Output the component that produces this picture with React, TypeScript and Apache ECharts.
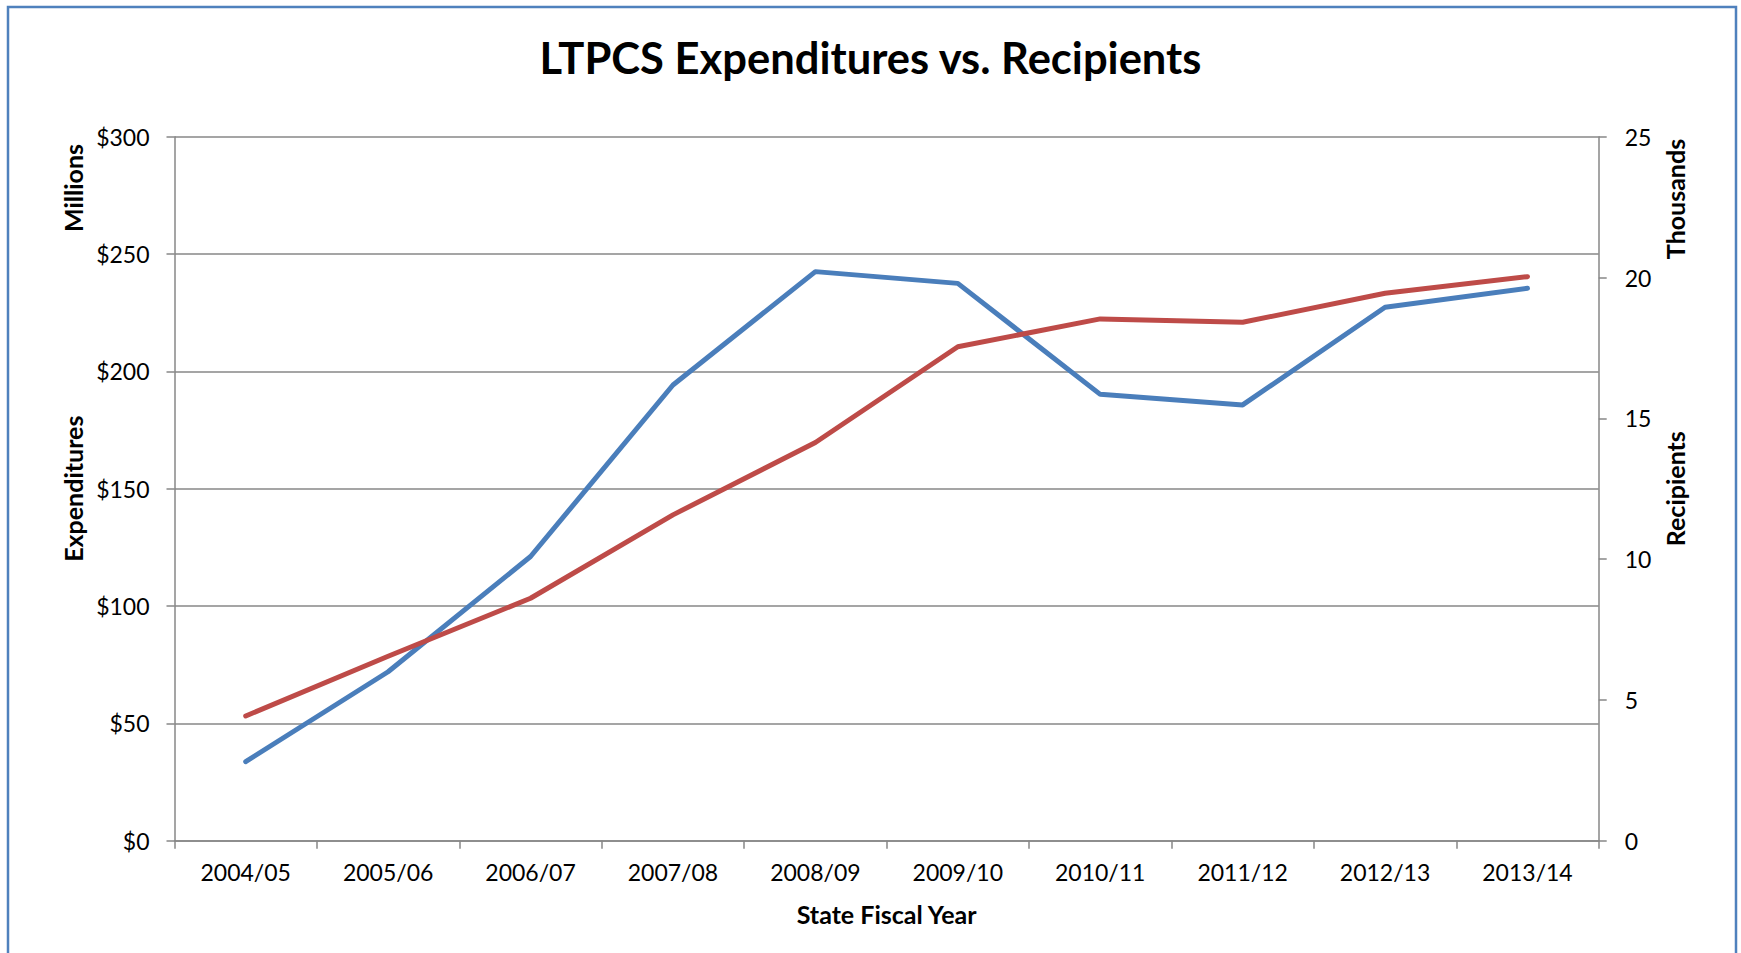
import React, { useEffect, useRef } from "react";
import * as echarts from "echarts";

const categories = ["2004/05", "2005/06", "2006/07", "2007/08", "2008/09", "2009/10", "2010/11", "2011/12", "2012/13", "2013/14"];
// Expenditures, $ millions (left axis)
const expenditures = [33.7, 72.0, 121.1, 194.2, 242.5, 237.5, 190.2, 185.7, 227.3, 235.4];
// Recipients, thousands (right axis)
const recipients = [4.43, 6.55, 8.61, 11.57, 14.14, 17.54, 18.53, 18.41, 19.44, 20.03];

const FONT = "Lato, 'Open Sans', sans-serif";
const GRID = "#878787";

export default function App() {
  const ref = useRef<HTMLDivElement>(null);
  useEffect(() => {
    if (!ref.current) return;
    const chart = echarts.init(ref.current, null, { renderer: "svg" });
    chart.setOption({
      animation: false,
      backgroundColor: "#ffffff",
      title: {
        text: "LTPCS Expenditures vs. Recipients",
        left: "center",
        top: 30,
        textStyle: { fontFamily: FONT, fontWeight: "bold", fontSize: 43.5, color: "#000" },
      },
      grid: { left: 174.5, right: 142.3, top: 136.7, bottom: 112.3, containLabel: false },
      xAxis: {
        type: "category",
        data: categories,
        boundaryGap: true,
        name: "State Fiscal Year",
        nameLocation: "middle",
        nameGap: 61,
        nameTextStyle: { fontFamily: FONT, fontWeight: "bold", fontSize: 25, color: "#000" },
        axisLine: { lineStyle: { color: GRID, width: 1.5 } },
        axisTick: { show: true, length: 8, lineStyle: { color: GRID, width: 1.5 } },
        axisLabel: { fontFamily: FONT, fontSize: 23, color: "#000", margin: 20 },
        splitLine: { show: false },
      },
      yAxis: [
        {
          type: "value",
          min: 0,
          max: 300,
          interval: 50,
          position: "left",
          name: "Expenditures",
          nameLocation: "middle",
          nameRotate: 90,
          nameGap: 88,
          nameTextStyle: { fontFamily: FONT, fontWeight: "bold", fontSize: 25, color: "#000" },
          axisLine: { show: true, lineStyle: { color: GRID, width: 1.5 } },
          axisTick: { show: true, length: 8, lineStyle: { color: GRID, width: 1.5 } },
          axisLabel: { fontFamily: FONT, fontSize: 23, color: "#000", margin: 25, formatter: (v: number) => "$" + v },
          splitLine: { show: true, lineStyle: { color: GRID, width: 1.5 } },
        },
        {
          type: "value",
          min: 0,
          max: 25,
          interval: 5,
          position: "right",
          name: "Recipients",
          nameLocation: "middle",
          nameRotate: 90,
          nameGap: 63,
          nameTextStyle: { fontFamily: FONT, fontWeight: "bold", fontSize: 25, color: "#000" },
          axisLine: { show: true, lineStyle: { color: GRID, width: 1.5 } },
          axisTick: { show: true, length: 8, lineStyle: { color: GRID, width: 1.5 } },
          axisLabel: { fontFamily: FONT, fontSize: 23, color: "#000", margin: 26 },
          splitLine: { show: false },
        },
      ],
      graphic: [
        {
          type: "rect",
          shape: { x: 8, y: 7, width: 1728, height: 980 },
          style: { fill: "none", stroke: "#4F81BD", lineWidth: 2.5 },
          silent: true,
        },
        {
          type: "text",
          x: 73,
          y: 188,
          rotation: Math.PI / 2,
          style: {
            text: "Millions",
            fontFamily: FONT,
            fontWeight: "bold",
            fontSize: 25,
            fill: "#000",
            textAlign: "center",
            textVerticalAlign: "middle",
          },
        },
        {
          type: "text",
          x: 1675,
          y: 199,
          rotation: Math.PI / 2,
          style: {
            text: "Thousands",
            fontFamily: FONT,
            fontWeight: "bold",
            fontSize: 25,
            fill: "#000",
            textAlign: "center",
            textVerticalAlign: "middle",
          },
        },
      ],
      series: [
        {
          name: "Expenditures",
          type: "line",
          yAxisIndex: 0,
          data: expenditures,
          showSymbol: false,
          symbol: "none",
          lineStyle: { color: "#4A7EBB", width: 5, cap: "round", join: "round" },
          itemStyle: { color: "#4A7EBB" },
        },
        {
          name: "Recipients",
          type: "line",
          yAxisIndex: 1,
          data: recipients,
          showSymbol: false,
          symbol: "none",
          lineStyle: { color: "#BE4B48", width: 5, cap: "round", join: "round" },
          itemStyle: { color: "#BE4B48" },
        },
      ],
    });
    return () => chart.dispose();
  }, []);
  return (
    <div
      ref={ref}
      style={{ position: "fixed", left: 0, top: 0, width: 1741, height: 953, background: "#fff" }}
    />
  );
}
